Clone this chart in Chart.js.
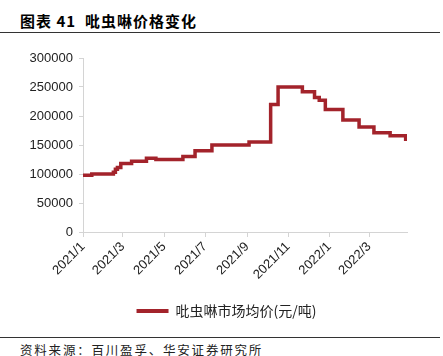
<!DOCTYPE html>
<html>
<head>
<meta charset="utf-8">
<script src="https://cdn.jsdelivr.net/npm/chart.js@4/dist/chart.umd.min.js"></script>
<style>
  html,body{margin:0;padding:0;background:#fff;}
  body{width:443px;height:356px;position:relative;overflow:hidden;font-family:"Noto Sans CJK SC","Liberation Sans",sans-serif;}
  #title{position:absolute;left:20px;top:10px;font-size:15px;font-weight:bold;color:#000;white-space:nowrap;letter-spacing:1px;}
  #rule1{position:absolute;left:0;top:32px;width:440px;height:0;border-top:1.5px solid #333;}
  #rule2{position:absolute;left:0;top:337px;width:440px;height:0;border-top:1.5px solid #333;}
  #source{position:absolute;left:20px;top:340px;font-size:12.5px;color:#222;white-space:nowrap;letter-spacing:1.8px;}
  #wrap{position:absolute;left:0;top:40px;width:443px;height:292px;}
</style>
</head>
<body>
<div id="title">图表 41&nbsp; 吡虫啉价格变化</div>
<div id="rule1"></div>
<div id="wrap"><canvas id="c"></canvas></div>
<div id="rule2"></div>
<div id="source">资料来源：百川盈孚、华安证券研究所</div>
<script>
// Price change dates (each date = day the new price starts) and prices (元/吨)
const changeDates = [
  '2021-01-01','2021-01-14','2021-02-15','2021-02-18','2021-02-21','2021-02-26',
  '2021-03-14','2021-04-05','2021-04-19','2021-05-29','2021-06-16','2021-07-11',
  '2021-09-04','2021-10-06','2021-10-17','2021-11-22','2021-12-10','2021-12-17',
  '2021-12-26','2022-01-21','2022-02-14','2022-03-08','2022-04-01','2022-04-24','2022-04-26'
];
const prices = [
  98000,100000,103000,108000,111000,118000,
  122000,127000,125000,130000,140000,150000,
  155000,220000,250000,242000,232000,227000,
  211000,193000,181000,171000,166000,160000,160000
];
const seriesName = '吡虫啉市场均价(元/吨)';
const xTickLabels = ['2021/1','2021/3','2021/5','2021/7','2021/9','2021/11','2022/1','2022/3'];
const yTicks = [0,50000,100000,150000,200000,250000,300000];

const DAY = 86400000;
const origin = Date.UTC(2021,0,1);
function dayOf(str){ const p=str.split(/[-\/]/).map(Number); return Math.round((Date.UTC(p[0],p[1]-1,p[2]||1)-origin)/DAY); }
const xTickDays = xTickLabels.map(dayOf);
const points = changeDates.map((d,i)=>({x:dayOf(d), y:prices[i]}));

const red = '#A3232B';
const axisColor = '#d4d4d4';
const tickFont = {family:'"Liberation Sans", Arial, sans-serif', size:13};

// shift the legend box so it is centred under the plot area like the reference
const legendShift = {
  id:'legendShift',
  afterLayout(chart){
    const lg = chart.legend; if(!lg) return;
    const dx = 23;
    lg.left += dx; lg.right += dx;
    (lg.legendHitBoxes||[]).forEach(b=>{ b.left += dx; });
  }
};

new Chart(document.getElementById('c'), {
  type:'line',
  data:{datasets:[{
    label:seriesName,
    data:points,
    stepped:true,
    borderColor:red,
    backgroundColor:red,
    borderWidth:3.5,
    pointRadius:0,
    fill:false
  }]},
  plugins:[legendShift],
  options:{
    responsive:true,
    maintainAspectRatio:false,
    animation:false,
    layout:{padding:{left:0,right:36,top:18,bottom:4}},
    plugins:{
      tooltip:{enabled:false},
      legend:{
        position:'bottom',
        labels:{
          boxWidth:32, boxHeight:4, padding:12,
          color:'#222',
          font:{family:'"Noto Sans CJK SC", sans-serif', size:14},
          generateLabels:(chart)=>{
            const items = Chart.defaults.plugins.legend.labels.generateLabels(chart);
            items.forEach(it=>{ it.lineWidth = 0; it.strokeStyle = 'rgba(0,0,0,0)'; });
            return items;
          }
        }
      }
    },
    scales:{
      x:{
        type:'linear', min:0, max:480,
        afterBuildTicks:(s)=>{ s.ticks = xTickDays.map(v=>({value:v})); },
        afterFit:(s)=>{ s.height = 60; },
        ticks:{
          autoSkip:false, maxRotation:45, minRotation:45, padding:2,
          color:'#222', font:tickFont,
          callback:(v)=>{ const i=xTickDays.indexOf(v); return i>=0?xTickLabels[i]:''; }
        },
        grid:{drawOnChartArea:false, drawTicks:true, tickLength:5, color:axisColor},
        border:{color:axisColor, width:1}
      },
      y:{
        min:0, max:300000,
        afterBuildTicks:(s)=>{ s.ticks = yTicks.map(v=>({value:v})); },
        afterFit:(s)=>{ s.width = 83; },
        ticks:{color:'#222', font:tickFont, padding:6, callback:(v)=>String(v)},
        grid:{drawOnChartArea:false, drawTicks:true, tickLength:4, color:axisColor},
        border:{color:axisColor, width:1}
      }
    }
  }
});
</script>
</body>
</html>
